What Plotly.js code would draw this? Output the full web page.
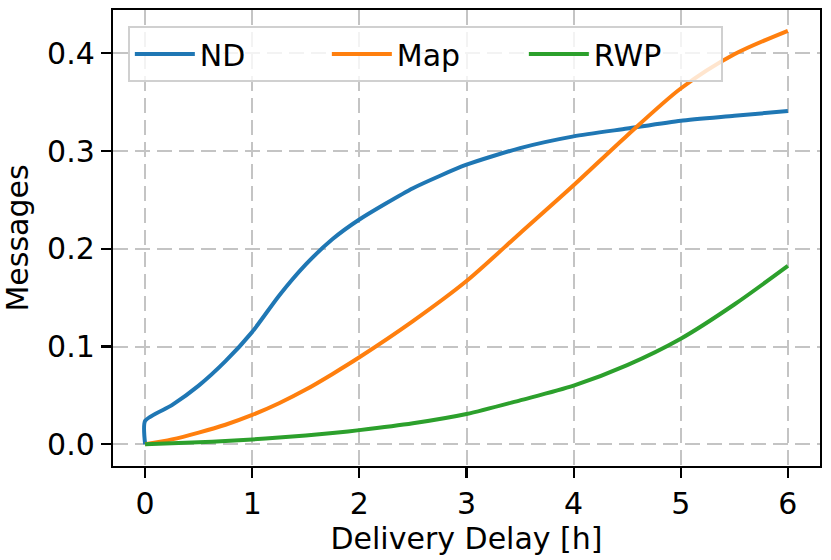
<!DOCTYPE html>
<html>
<head>
<meta charset="utf-8">
<script src="https://cdn.plot.ly/plotly-3.0.1.min.js"></script>
<style>
  html, body { margin: 0; padding: 0; background: #ffffff; }
  #chart { width: 831px; height: 560px; }
</style>
</head>
<body>
<div id="chart"></div>
<script>
// Delivery delay in hours
const delayX = [0, 0.25, 0.5, 0.75, 1.0, 1.25, 1.5, 1.75, 2.0, 2.5, 3.0, 3.5, 4.0, 4.5, 5.0, 5.5, 6.0];
// ND has an initial jump at x = 0 (from 0 to ~0.024)
const ndX = [0].concat(delayX);
const ndY = [0, 0.024, 0.040, 0.060, 0.085, 0.115, 0.152, 0.184, 0.210, 0.230, 0.262, 0.286, 0.303, 0.315, 0.323, 0.331, 0.336, 0.341];
const mapY = [0, 0.005, 0.012, 0.020, 0.030, 0.042, 0.056, 0.072, 0.089, 0.126, 0.167, 0.216, 0.265, 0.316, 0.364, 0.399, 0.423];
const rwpY = [0, 0.001, 0.002, 0.0035, 0.005, 0.007, 0.009, 0.0115, 0.0145, 0.0215, 0.031, 0.045, 0.060, 0.081, 0.108, 0.143, 0.1825];
const seriesNames = ["ND", "Map", "RWP"];
const xTicks = [0, 1, 2, 3, 4, 5, 6];
const yTicks = [0, 0.1, 0.2, 0.3, 0.4];
const yTickText = ["0.0", "0.1", "0.2", "0.3", "0.4"];

const FONT = "DejaVu Sans, sans-serif";
const lw = 4;

const traces = [
  { x: ndX, y: ndY, name: seriesNames[0], mode: "lines", line: { color: "#1f77b4", width: lw, shape: "spline", smoothing: 0.6 } },
  { x: delayX, y: mapY, name: seriesNames[1], mode: "lines", line: { color: "#ff7f0e", width: lw, shape: "spline", smoothing: 0.8 } },
  { x: delayX, y: rwpY, name: seriesNames[2], mode: "lines", line: { color: "#2ca02c", width: lw, shape: "spline", smoothing: 0.8 } }
];

const axisCommon = {
  showline: true, mirror: true, linecolor: "#000000", linewidth: 2.2,
  ticks: "outside", ticklen: 10, tickwidth: 2.2, tickcolor: "#000000",
  showgrid: true, gridcolor: "#c4c4c4", gridwidth: 2, griddash: "15px,7px",
  zeroline: false,
  tickfont: { family: FONT, size: 30, color: "#000000" }
};

const layout = {
  width: 831, height: 560,
  margin: { l: 113, r: 11, t: 10, b: 94 },
  paper_bgcolor: "#ffffff", plot_bgcolor: "#ffffff",
  font: { family: FONT, size: 30, color: "#000000" },
  showlegend: true,
  xaxis: Object.assign({}, axisCommon, {
    range: [-0.3, 6.3], tickvals: xTicks,
    title: { text: "Delivery Delay [h]", font: { family: FONT, size: 30, color: "#000000" }, standoff: 6 }
  }),
  yaxis: Object.assign({}, axisCommon, {
    range: [-0.0222, 0.4443], tickvals: yTicks, ticktext: yTickText,
    title: { text: "Messages", font: { family: FONT, size: 30, color: "#000000" }, standoff: 14 }
  }),
  legend: {
    orientation: "h", x: 0.021, y: 0.965, xanchor: "left", yanchor: "top",
    bgcolor: "rgba(255,255,255,0.8)", bordercolor: "#d0d0d0", borderwidth: 2,
    font: { family: FONT, size: 30, color: "#000000" },
    entrywidth: 122, entrywidthmode: "pixels", itemwidth: 60
  }
};

Plotly.newPlot("chart", traces, layout, { displayModeBar: false, staticPlot: true });
</script>
</body>
</html>
